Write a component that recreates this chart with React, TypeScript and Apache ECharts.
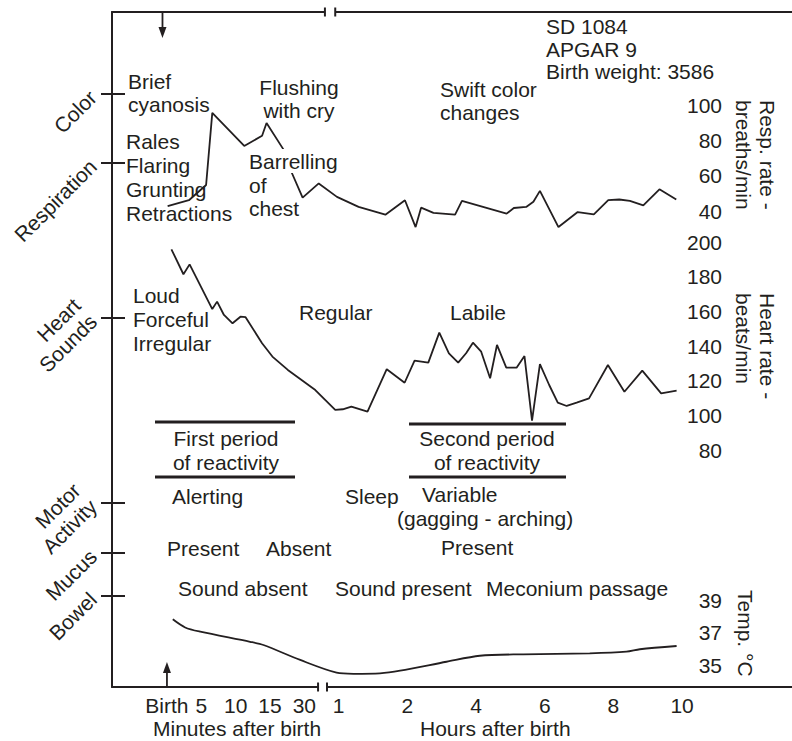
import { useEffect, useRef } from 'react';
import * as echarts from 'echarts';

// ---- Data -----------------------------------------------------------------
// Horizontal positions are "slots" on the time axis: minute marks Birth..30
// occupy one slot each, hour marks 1..10 occupy two slots each.
const xTickSlots = [0, 1, 2, 3, 4, 5, 7, 9, 11, 13, 15];
const xTickLabels = ['Birth', '5', '10', '15', '30', '1', '2', '4', '6', '8', '10'];

// Respiratory rate (breaths/min)
const respSlots = [0.02, 0.64, 1.14, 1.32, 2.25, 2.77, 2.9, 3.4, 3.6, 3.95, 4.42, 4.95, 5.58, 6.36, 6.93, 7.24, 7.4, 7.76, 8.39, 8.59, 9.89, 10.1, 10.46, 10.67, 10.86, 11.4, 11.96, 12.43, 12.85, 13.17, 13.48, 13.87, 14.34, 14.83];
const respRates = [42.7, 46.1, 54.7, 95.5, 76.8, 82.6, 89.8, 74.6, 63.2, 47.6, 55.6, 48.0, 42.3, 37.9, 46.1, 30.9, 41.9, 38.9, 37.9, 45.7, 38.5, 41.7, 42.3, 45.2, 51.4, 30.9, 39.4, 38.1, 46.1, 46.5, 45.7, 43.2, 52.3, 46.5];

// Heart rate (beats/min)
const heartSlots = [0.13, 0.48, 0.66, 1.32, 1.46, 1.66, 1.91, 2.14, 2.29, 2.77, 3.07, 3.52, 4.32, 4.9, 5.12, 5.37, 5.84, 6.4, 6.92, 7.21, 7.61, 7.93, 8.21, 8.48, 8.71, 8.91, 9.15, 9.41, 9.61, 9.88, 10.18, 10.41, 10.63, 10.86, 11.13, 11.38, 11.64, 11.93, 12.29, 12.84, 13.32, 13.84, 14.39, 14.84];
const heartRates = [195.8, 181.4, 187.1, 161.3, 165.6, 157.9, 153.1, 156.9, 156.6, 141.6, 133.9, 126.2, 114.6, 103.1, 103.5, 105.0, 102.1, 126.6, 118.8, 131.5, 130.4, 147.7, 135.8, 130.4, 135.8, 141.9, 136.7, 121.4, 140.6, 127.5, 127.5, 134.2, 96.9, 129.6, 117.5, 107.3, 105.4, 107.3, 109.8, 129.0, 113.6, 125.8, 112.7, 114.2];

// Body temperature (°C)
const tempSlots = [0.17, 0.53, 0.97, 2.42, 2.81, 3.88, 4.94, 5.43, 6.2, 6.79, 8.14, 9.11, 10.37, 12.31, 13.38, 13.77, 14.84];
const tempValues = [37.81, 37.31, 37.05, 36.43, 36.23, 35.31, 34.53, 34.46, 34.49, 34.65, 35.2, 35.57, 35.66, 35.72, 35.82, 35.97, 36.17];

// Observation rows listed along the left edge
const rowNames = ['Color', 'Respiration', 'Heart\nSounds', 'Motor\nActivity', 'Mucus', 'Bowel'];

// ---- Layout ---------------------------------------------------------------
const INK = '#231f20';
const FONT = '"Liberation Sans", Arial, Helvetica, sans-serif';
const FS = 21;
const WIDTH = 792;
const HEIGHT = 741;
const FRAME_LEFT = 112;
const FRAME_TOP = 12;
const FRAME_BOTTOM = 687;
const SLOT_MIN = -1.6;
const SLOT_MAX = 18.2;
const VALUE_AXIS_X = 730;
const ROW_Y = [94, 163, 318, 503, 553, 596];

const noSplit = { show: false };

function valueAxis(gridIndex: number, min: number, max: number, interval: number) {
  return {
    type: 'value',
    gridIndex,
    min,
    max,
    interval,
    position: 'left',
    offset: -(VALUE_AXIS_X - FRAME_LEFT),
    axisLine: { show: false, onZero: false },
    axisTick: { show: false },
    splitLine: noSplit,
    axisLabel: {
      margin: 8,
      fontSize: FS,
      fontFamily: FONT,
      color: INK,
      showMinLabel: true,
      showMaxLabel: true,
    },
  };
}

function hiddenSlotAxis(gridIndex: number) {
  return {
    type: 'value',
    gridIndex,
    min: SLOT_MIN,
    max: SLOT_MAX,
    show: false,
    axisLine: { onZero: false },
    splitLine: noSplit,
  };
}

function curve(name: string, axis: number, xs: number[], ys: number[], smooth: number | boolean = false) {
  return {
    type: 'line',
    name,
    xAxisIndex: axis,
    yAxisIndex: axis,
    data: xs.map((x, i) => [x, ys[i]]),
    symbol: 'none',
    smooth,
    clip: false,
    z: 2,
    lineStyle: { color: INK, width: 1.8 },
  };
}

function buildOption() {
  const gridBase = { left: FRAME_LEFT, right: 0, containLabel: false, outerBoundsMode: 'none' };
  const rowValues = ROW_Y.map((y) => y - FRAME_TOP);
  const frameLine = { show: true, onZero: false, lineStyle: { color: INK, width: 2 } };
  return {
    animation: false,
    backgroundColor: '#ffffff',
    textStyle: { fontFamily: FONT, color: INK },
    grid: [
      { ...gridBase, top: FRAME_TOP, height: FRAME_BOTTOM - FRAME_TOP },
      { ...gridBase, top: 105, height: 106 },
      { ...gridBase, top: 242, height: 208 },
      { ...gridBase, top: 600, height: 65 },
    ],
    xAxis: [
      {
        type: 'value',
        gridIndex: 0,
        position: 'bottom',
        min: SLOT_MIN,
        max: SLOT_MAX,
        axisLine: frameLine,
        axisTick: { show: false },
        splitLine: noSplit,
        axisLabel: {
          customValues: xTickSlots,
          formatter: (v: number) => {
            const i = xTickSlots.indexOf(v);
            return i >= 0 ? xTickLabels[i] : '';
          },
          margin: 8,
          fontSize: FS,
          fontFamily: FONT,
          color: INK,
        },
      },
      {
        type: 'value',
        gridIndex: 0,
        position: 'top',
        min: SLOT_MIN,
        max: SLOT_MAX,
        axisLine: frameLine,
        axisTick: { show: false },
        axisLabel: { show: false },
        splitLine: noSplit,
      },
      hiddenSlotAxis(1),
      hiddenSlotAxis(2),
      hiddenSlotAxis(3),
    ],
    yAxis: [
      {
        type: 'value',
        gridIndex: 0,
        inverse: true,
        min: 0,
        max: FRAME_BOTTOM - FRAME_TOP,
        position: 'left',
        axisLine: frameLine,
        axisTick: { show: true, customValues: rowValues, length: 11, lineStyle: { color: INK, width: 2 } },
        axisLabel: { show: false },
        splitLine: noSplit,
      },
      {
        type: 'value',
        gridIndex: 0,
        inverse: true,
        min: 0,
        max: FRAME_BOTTOM - FRAME_TOP,
        position: 'left',
        axisLine: { show: false, onZero: false },
        axisTick: { show: true, inside: true, customValues: rowValues, length: 13, lineStyle: { color: INK, width: 2 } },
        axisLabel: { show: false },
        splitLine: noSplit,
      },
      valueAxis(1, 40, 100, 20),
      valueAxis(2, 80, 200, 20),
      valueAxis(3, 35, 39, 2),
    ],
    series: [
      curve('Resp. rate', 2, respSlots, respRates),
      curve('Heart rate', 3, heartSlots, heartRates),
      curve('Temp.', 4, tempSlots, tempValues, 0.3),
    ],
  };
}

function seg(x1: number, y1: number, x2: number, y2: number, width = 2) {
  return { type: 'line', z: 20, shape: { x1, y1, x2, y2 }, style: { stroke: INK, lineWidth: width } };
}

function text(
  content: string,
  x: number,
  firstLineY: number,
  opts: { align?: string; lh?: number; bg?: string } = {},
) {
  const lh = opts.lh ?? 24;
  const align = opts.align ?? 'left';
  const style: any = {
    text: content,
    x: 0,
    y: 0,
    fill: INK,
    fontSize: FS,
    fontFamily: FONT,
    align,
    textAlign: align,
    verticalAlign: 'top',
    textVerticalAlign: 'top',
    lineHeight: lh,
  };
  if (opts.bg) {
    style.backgroundColor = opts.bg;
  }
  return { type: 'text', z: 30, x, y: firstLineY - lh / 2, style };
}

function buildGraphics(chart: echarts.ECharts) {
  const px = (slot: number) => chart.convertToPixel({ xAxisIndex: 0 }, slot) as number;
  const rowPx = (v: number) => chart.convertToPixel({ yAxisIndex: 0 }, v) as number;
  const els: any[] = [];

  // axis breaks between the minute and hour scales
  const breakMark = (a: number, b: number, y: number) => {
    const x1 = px(a);
    const x2 = px(b);
    els.push({ type: 'rect', z: 19, shape: { x: x1, y: y - 3, width: x2 - x1, height: 6 }, style: { fill: '#fff' } });
    els.push(seg(x1, y - 4.5, x1, y + 4.5), seg(x2, y - 4.5, x2, y + 4.5));
  };
  breakMark(4.6, 4.9, FRAME_TOP);
  breakMark(4.4, 4.66, FRAME_BOTTOM);

  // birth arrows
  const arrow = (x: number, yFrom: number, yTip: number) => {
    const dir = Math.sign(yTip - yFrom);
    els.push(seg(x, yFrom, x, yTip - dir * 8, 1.8));
    els.push({
      type: 'polygon',
      z: 20,
      shape: { points: [[x, yTip], [x - 4, yTip - dir * 11], [x + 4, yTip - dir * 11]] },
      style: { fill: INK },
    });
  };
  arrow(px(-0.13), FRAME_TOP, 38);
  arrow(px(0), FRAME_BOTTOM, 662);

  // periods of reactivity
  els.push(seg(155, 422, 295, 422, 3), seg(155, 477, 295, 477, 3));
  els.push(seg(409, 424, 566, 424, 3), seg(409, 477, 566, 477, 3));

  // row labels, rotated 45 degrees; the last line sits on the tick
  rowNames.forEach((name, i) => {
    const y = rowPx(ROW_Y[i] - FRAME_TOP);
    els.push({
      type: 'text',
      z: 30,
      x: FRAME_LEFT - 19,
      y,
      rotation: Math.PI / 4,
      style: {
        text: name,
        x: 0,
        y: 11.5,
        fill: INK,
        fontSize: FS,
        fontFamily: FONT,
        align: 'right',
        textAlign: 'right',
        verticalAlign: 'bottom',
        textVerticalAlign: 'bottom',
        lineHeight: 23,
      },
    });
  });

  // axis titles on the right, reading downwards
  const title = (content: string, x: number, y: number) => ({
    type: 'text',
    z: 30,
    x,
    y,
    rotation: -Math.PI / 2,
    style: {
      text: content,
      x: 0,
      y: 0,
      fill: INK,
      fontSize: FS,
      fontFamily: FONT,
      align: 'left',
      textAlign: 'left',
      verticalAlign: 'middle',
      textVerticalAlign: 'middle',
      lineHeight: 24,
    },
  });
  els.push(title('Resp. rate -\nbreaths/min', 755, 100));
  els.push(title('Heart rate -\nbeats/min', 755, 293));
  els.push(title('Temp. °C', 745, 590));

  // annotations
  els.push(
    text('SD 1084\nAPGAR 9\nBirth weight: 3586', 546, 26.7, { lh: 22.5 }),
    text('Brief\ncyanosis', 128, 81, { lh: 23 }),
    text('Flushing\nwith cry', 299, 87.5, { align: 'center', lh: 23 }),
    text('Swift color\nchanges', 440, 89, { lh: 23 }),
    text('Rales\nFlaring\nGrunting\nRetractions', 126, 141.7, { lh: 23.8 }),
    text('Barrelling', 249, 161, { bg: '#ffffff' }),
    text('of\nchest', 249, 185, { lh: 23 }),
    text('Loud\nForceful\nIrregular', 133, 295, { lh: 24 }),
    text('Regular', 299, 312),
    text('Labile', 450, 312),
    text('First period\nof reactivity', 226, 438, { align: 'center' }),
    text('Second period\nof reactivity', 487, 438, { align: 'center' }),
    text('Alerting', 172, 496),
    text('Sleep', 345, 496),
    text('Variable', 422, 494),
    text('(gagging - arching)', 397, 518),
    text('Present', 167, 548),
    text('Absent', 266, 548),
    text('Present', 441, 547),
    text('Sound absent', 178, 588),
    text('Sound present', 335, 588),
    text('Meconium passage', 486, 588),
    text('Minutes after birth', 153, 728),
    text('Hours after birth', 420, 728),
  );
  return els;
}

export default function App() {
  const ref = useRef<HTMLDivElement>(null);
  useEffect(() => {
    const el = ref.current;
    if (!el) return;
    const chart = echarts.init(el, undefined, { renderer: 'svg' });
    chart.setOption(buildOption() as any);
    chart.setOption({ graphic: buildGraphics(chart) } as any);
    return () => chart.dispose();
  }, []);
  return (
    <div
      ref={ref}
      style={{ position: 'absolute', left: 0, top: 0, width: WIDTH, height: HEIGHT, background: '#fff' }}
    />
  );
}
